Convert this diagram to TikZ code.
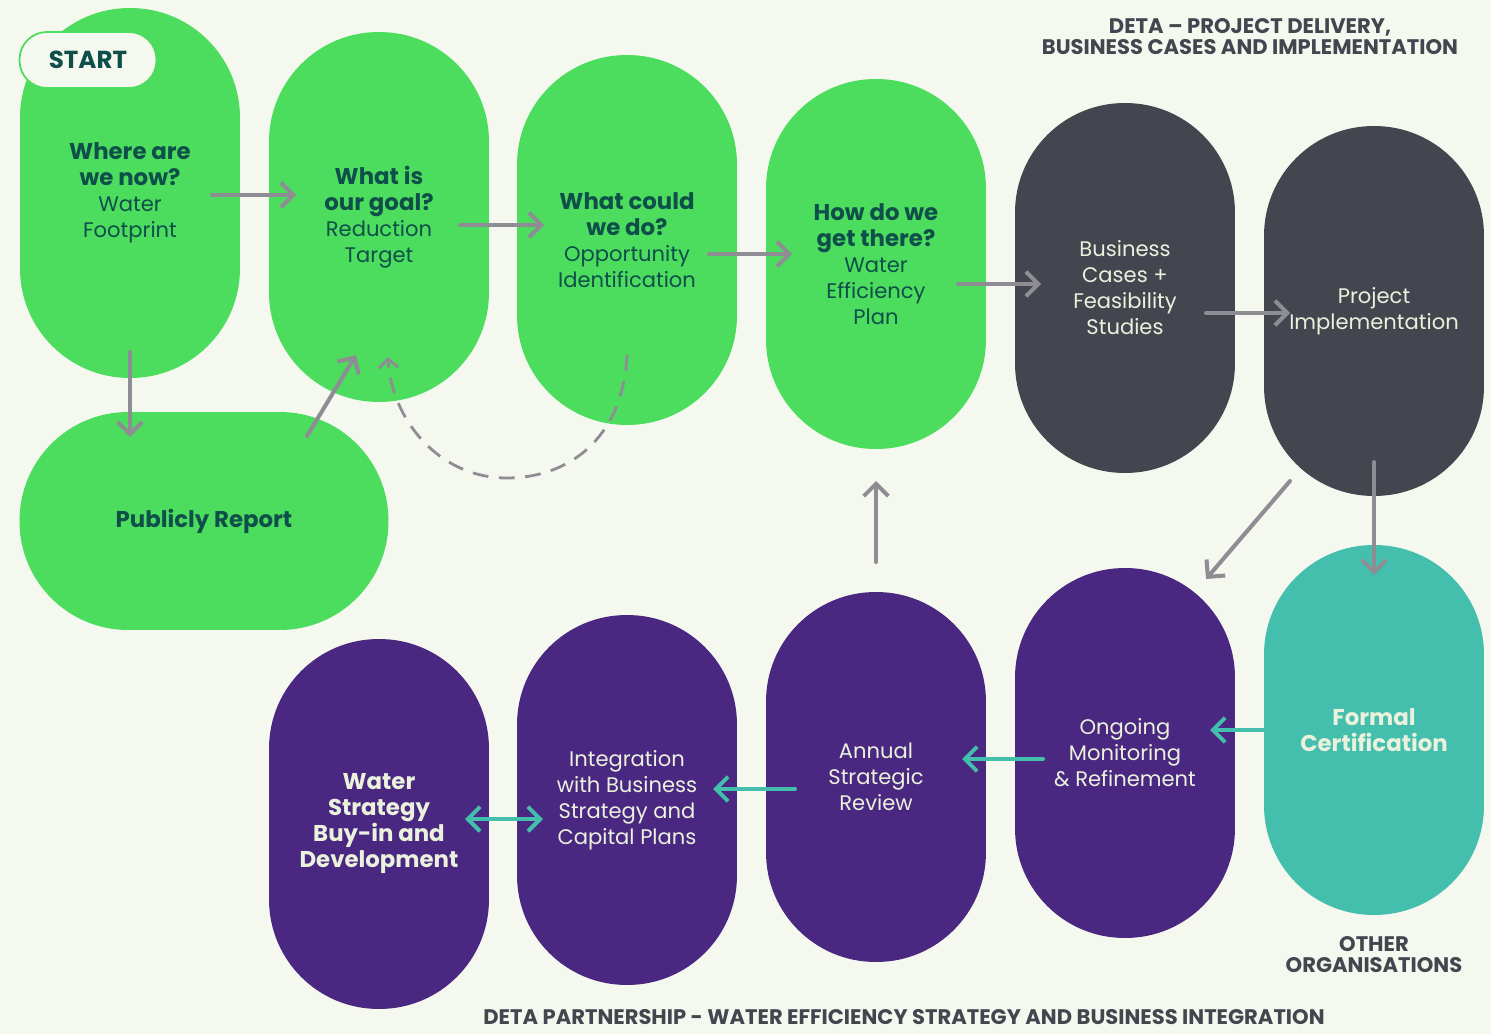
\documentclass[tikz,border=0pt]{standalone}
\usepackage{fontspec}
\setmainfont{Poppins}
\usepackage{tikz}
\usetikzlibrary{calc, positioning, arrows.meta}

\definecolor{paper}{HTML}{F5F8EE}
\definecolor{leaf}{HTML}{4CDD5F}
\definecolor{pine}{HTML}{0F4F4A}
\definecolor{slate}{HTML}{43464F}
\definecolor{plum}{HTML}{4A2882}
\definecolor{lagoon}{HTML}{45BFAD}
\definecolor{cream}{HTML}{EAF1DC}
\definecolor{pebble}{HTML}{8E8D93}

% bold question lines
\newcommand{\askline}[1]{{\fontsize{13}{14.8}\selectfont\bfseries #1}}

\begin{document}
\begin{tikzpicture}[
    x=0.02cm, y=-0.02cm,
    font=\fontsize{12}{14.8}\selectfont,
    pill/.style={rectangle, rounded corners=2.19cm, minimum width=4.4cm, minimum height=7.4cm, align=center, inner sep=0pt},
    greenpill/.style={pill, fill=leaf, text=pine},
    darkpill/.style={pill, fill=slate, text=cream},
    plumpill/.style={pill, fill=plum, text=cream},
    tealpill/.style={pill, fill=lagoon, text=cream},
    flow/.style={draw=pebble, line width=2.3pt, line cap=round, -{Straight Barb[length=7pt, width=14pt]}},
    tealflow/.style={flow, draw=lagoon},
    heading/.style={font=\fontsize{12}{11.9}\selectfont\bfseries, text=slate, align=center}
]

    % Background and page size
    \fill[paper] (0,0) rectangle (1491,1034);
    \useasboundingbox (0,0) rectangle (1491,1034);

    % Top row - planning steps
    \node[greenpill] (where) at (130,193) {\askline{Where are}\\\askline{we now?}\\Water\\Footprint};
    \node[greenpill] (goal) at (379,217) {\askline{What is}\\\askline{our goal?}\\Reduction\\Target};
    \node[greenpill] (could) at (627,240) {\askline{What could}\\\askline{we do?}\\Opportunity\\Identification};
    \node[greenpill] (how) at (876,264) {\askline{How do we}\\\askline{get there?}\\Water\\Efficiency\\Plan};
    \node[darkpill] (cases) at (1125,288) {Business\\Cases +\\Feasibility\\Studies};
    \node[darkpill] (impl) at (1374,311) {Project\\Implementation};

    % Start tag
    \node[draw=leaf, line width=1pt, fill=paper, rounded corners=0.55cm, minimum width=2.74cm, minimum height=1.12cm,
          font=\fontsize{14}{16}\selectfont\bfseries, text=pine] (start) at (88,60) {START};

    % Reporting
    \node[pill, fill=leaf, text=pine, minimum width=7.38cm, minimum height=4.36cm, rounded corners=2.17cm] (report) at (204,521) {\askline{Publicly Report}};

    % Bottom row - review loop
    \node[tealpill] (cert) at (1374,730) {\askline{Formal}\\\askline{Certification}};
    \node[plumpill] (monitor) at (1125,753) {Ongoing\\Monitoring\\\& Refinement};
    \node[plumpill] (review) at (876,777) {Annual\\Strategic\\Review};
    \node[plumpill] (integ) at (627,800) {Integration\\with Business\\Strategy and\\Capital Plans};
    \node[plumpill] (buyin) at (379,824) {\askline{Water}\\\askline{Strategy}\\\askline{Buy-in and}\\\askline{Development}};

    % Headings
    \node[heading] (deta) at (1250,37) {DETA -- PROJECT DELIVERY,\\BUSINESS CASES AND IMPLEMENTATION};
    \node[heading] (other) at (1374,955) {OTHER\\ORGANISATIONS};
    \node[heading] (partner) at (904,1017) {DETA PARTNERSHIP - WATER EFFICIENCY STRATEGY AND BUSINESS INTEGRATION};

    % Main flow
    \draw[flow] ($(where.center)+(82,2)$) -- ($(goal.center)+(-83,-22)$);
    \draw[flow] ($(goal.center)+(81,8)$) -- ($(could.center)+(-83,-15)$);
    \draw[flow] ($(could.center)+(82,14)$) -- ($(how.center)+(-84,-10)$);
    \draw[flow] ($(how.center)+(82,20)$) -- ($(cases.center)+(-84,-4)$);
    \draw[flow] ($(cases.center)+(81,25)$) -- ($(impl.center)+(-84,2)$);

    % Report loop
    \draw[flow] ($(where.center)+(0,159)$) -- ($(report.center)+(-74,-84)$);
    \draw[flow] ($(report.center)+(103,-85)$) -- ($(goal.center)+(-23,138)$);
    \draw[flow, line width=1.6pt, dash pattern=on 9pt off 6pt, line cap=butt, -{Straight Barb[length=5pt, width=11pt]}]
        ($(could.center)+(0,115)$) .. controls ($(could.center)+(-4,200)$) and ($(could.center)+(-60,238)$) .. ($(could.center)+(-120,238)$)
        .. controls ($(could.center)+(-190,238)$) and ($(goal.center)+(12,200)$) .. ($(goal.center)+(9,140)$);

    % Delivery outcomes
    \draw[flow] ($(impl.center)+(-84,170)$) -- ($(monitor.center)+(81,-174)$);
    \draw[flow] ($(impl.center)+(0,151)$) -- ($(cert.center)+(0,-155)$);
    \draw[flow] ($(review.center)+(0,-215)$) -- ($(how.center)+(0,217)$);

    % Partnership flow
    \draw[tealflow] ($(cert.center)+(-84,0)$) -- ($(monitor.center)+(85,-23)$);
    \draw[tealflow] ($(monitor.center)+(-82,6)$) -- ($(review.center)+(86,-18)$);
    \draw[tealflow] ($(review.center)+(-81,12)$) -- ($(integ.center)+(86,-11)$);
    \draw[tealflow, {Straight Barb[length=7pt, width=14pt]}-{Straight Barb[length=7pt, width=14pt]}] ($(buyin.center)+(86,-5)$) -- ($(integ.center)+(-84,19)$);

\end{tikzpicture}
\end{document}
